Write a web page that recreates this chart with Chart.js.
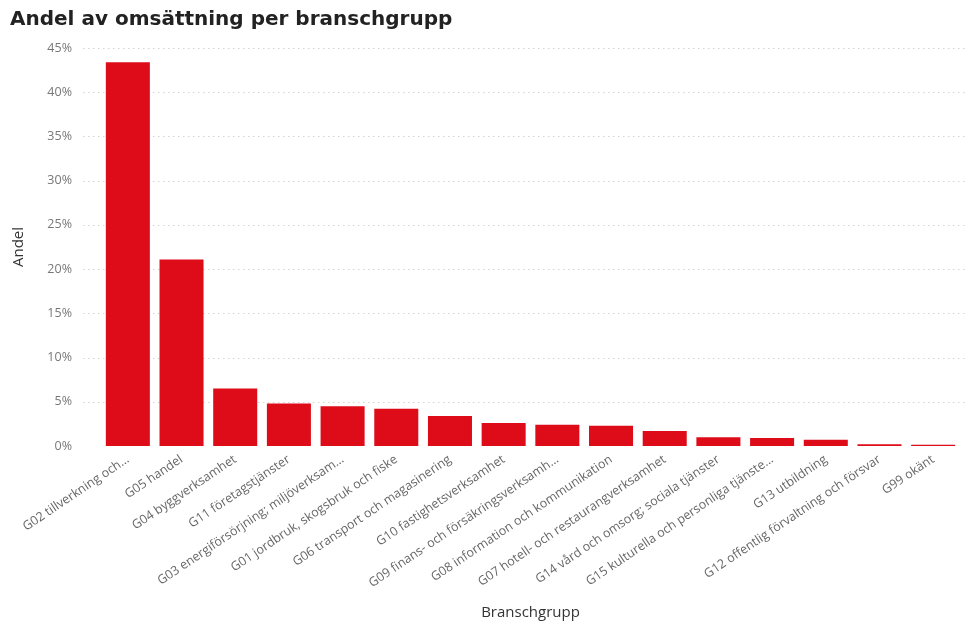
<!DOCTYPE html>
<html>
<head>
<meta charset="utf-8">
<script src="https://cdn.jsdelivr.net/npm/chart.js@4"></script>
<style>
    html, body { margin: 0; padding: 0; background: #fff; }
    #wrap { width: 970px; height: 624px; }
</style>
</head>
<body>
<div id="wrap"><canvas id="omsattning-chart" width="970" height="624"></canvas></div>
<script>
const categories = [
    "G02 tillverkning och…",
    "G05 handel",
    "G04 byggverksamhet",
    "G11 företagstjänster",
    "G03 energiförsörjning; miljöverksam…",
    "G01 jordbruk, skogsbruk och fiske",
    "G06 transport och magasinering",
    "G10 fastighetsverksamhet",
    "G09 finans- och försäkringsverksamh…",
    "G08 information och kommunikation",
    "G07 hotell- och restaurangverksamhet",
    "G14 vård och omsorg; sociala tjänster",
    "G15 kulturella och personliga tjänste…",
    "G13 utbildning",
    "G12 offentlig förvaltning och försvar",
    "G99 okänt",
];

// andel i procent
const andel = [43.4, 21.1, 6.5, 4.8, 4.5, 4.2, 3.4, 2.6, 2.4, 2.3, 1.7, 1.0, 0.9, 0.7, 0.2, 0.15];

const yTicks = [0, 5, 10, 15, 20, 25, 30, 35, 40, 45];

const FONT = "'Segoe UI', 'Open Sans', sans-serif";

// dotted grid lines, a bit wider than the chart area
const dottedGrid = {
    id: "dottedGrid",
    beforeDatasetsDraw(chart) {
        const { ctx, chartArea, scales } = chart;
        ctx.save();
        ctx.strokeStyle = "#d4d4d4";
        ctx.lineWidth = 1;
        ctx.setLineDash([1.5, 3.5]);
        yTicks.forEach((t) => {
            if (t === 0) return;
            const y = Math.round(scales.y.getPixelForValue(t)) + 0.5;
            ctx.beginPath();
            ctx.moveTo(chartArea.left - 18, y);
            ctx.lineTo(chartArea.right + 5, y);
            ctx.stroke();
        });
        ctx.restore();
    },
};

const data = {
    labels: categories,
    datasets: [
        {
            label: "Andel",
            data: andel,
            backgroundColor: "#DE0C19",
            borderWidth: 0,
            barPercentage: 0.82,
            categoryPercentage: 1,
        },
    ],
};

const config = {
    type: "bar",
    data,
    plugins: [dottedGrid],
    options: {
        responsive: false,
        animation: false,
        layout: {
            padding: { left: 10, right: 10, top: 0, bottom: 2 },
        },
        scales: {
            y: {
                min: 0,
                max: 45,
                afterBuildTicks: (scale) => {
                    scale.ticks = yTicks.map((v) => ({ value: v }));
                },
                afterFit: (scale) => {
                    scale.width = 91;
                },
                grid: { display: false, drawTicks: false },
                border: { display: false },
                ticks: {
                    padding: 29,
                    color: "#777",
                    font: { family: FONT, size: 12.5 },
                    callback: (v) => v + "%",
                },
                title: {
                    display: true,
                    text: "Andel",
                    color: "#333",
                    font: { family: FONT, size: 15 },
                    padding: { top: 0, bottom: 0 },
                },
            },
            x: {
                afterFit: (scale) => {
                    scale.height = 176;
                },
                grid: { display: false, drawTicks: false },
                border: { display: false },
                ticks: {
                    autoSkip: false,
                    minRotation: 34,
                    maxRotation: 34,
                    padding: 6,
                    color: "#666",
                    font: { family: FONT, size: 12.5 },
                },
                title: {
                    display: true,
                    text: "Branschgrupp",
                    color: "#333",
                    font: { family: FONT, size: 15 },
                    padding: { top: 0, bottom: 0 },
                },
            },
        },
        plugins: {
            title: {
                display: true,
                text: "Andel av omsättning per branschgrupp",
                align: "start",
                color: "#222",
                font: { family: "'DejaVu Sans', sans-serif", size: 20, weight: "bold" },
                padding: { top: 8, bottom: 16 },
            },
            legend: { display: false },
            tooltip: { enabled: false },
        },
    },
};

const omsattningChart = new Chart(document.getElementById("omsattning-chart"), config);
</script>
</body>
</html>
